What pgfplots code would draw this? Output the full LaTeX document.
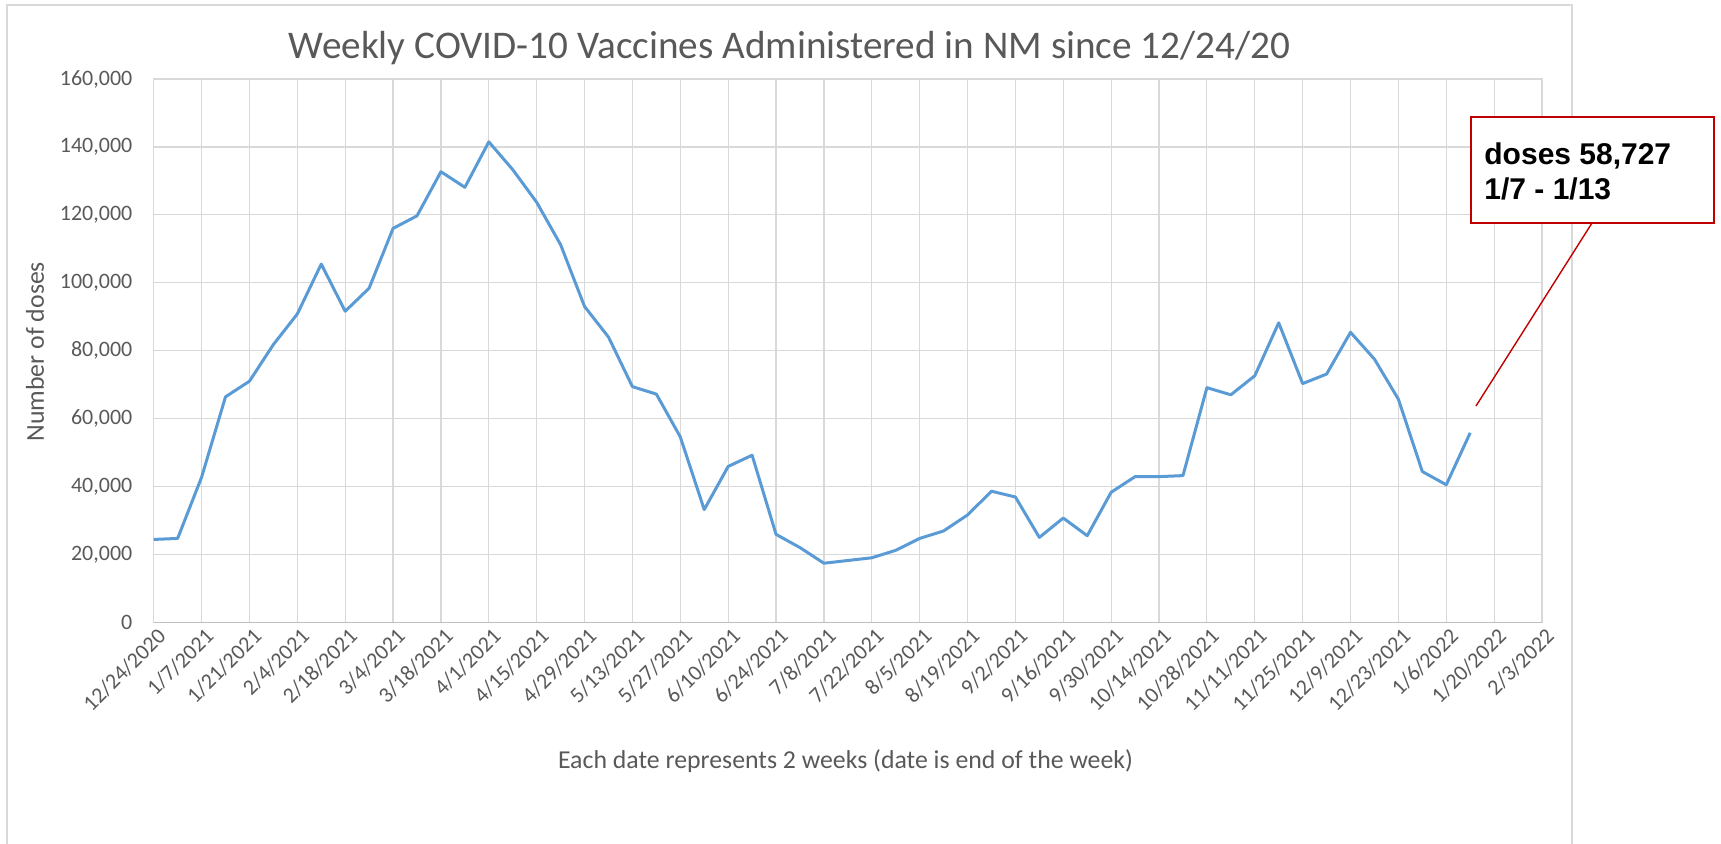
\documentclass[border=0pt]{standalone}
\usepackage{pgfplots}
\pgfplotsset{compat=1.18}
\usepackage{fontspec}
\setmainfont{Carlito}
\newfontfamily\arialfont{Liberation Sans}

\definecolor{lineblue}{HTML}{5B9BD5}
\definecolor{textgray}{HTML}{595959}
\definecolor{gridgray}{HTML}{D9D9D9}
\definecolor{axisgray}{HTML}{BFBFBF}
\definecolor{callred}{HTML}{C00000}

\begin{document}
\begin{tikzpicture}
\useasboundingbox (0,0) rectangle (860.5pt,421.5pt);
% chart frame
\draw[gridgray, line width=0.75pt] (3.5pt,-2pt) -- (3.5pt,419pt) -- (786pt,419pt) -- (786pt,-2pt);
% title
\node[anchor=base, text=textgray, font=\fontsize{19.6}{23}\selectfont, inner sep=0pt]
  at (394.75pt,392pt) {Weekly COVID-10 Vaccines Administered in NM since 12/24/20};

\begin{axis}[
    at={(76.85pt,110.35pt)}, anchor=south west,
    scale only axis,
    width=694.15pt, height=271.65pt,
    xmin=0, xmax=58,
    ymin=0, ymax=160000,
    xtick={0,2,...,58},
    xticklabels={12/24/2020,1/7/2021,1/21/2021,2/4/2021,2/18/2021,3/4/2021,3/18/2021,4/1/2021,4/15/2021,4/29/2021,5/13/2021,5/27/2021,6/10/2021,6/24/2021,7/8/2021,7/22/2021,8/5/2021,8/19/2021,9/2/2021,9/16/2021,9/30/2021,10/14/2021,10/28/2021,11/11/2021,11/25/2021,12/9/2021,12/23/2021,1/6/2022,1/20/2022,2/3/2022},
    ytick={0,20000,...,160000},
    scaled y ticks=false,
    /pgf/number format/fixed,
    /pgf/number format/1000 sep={,},
    /pgf/number format/assume math mode=true,
    tick label style={text=textgray, font=\fontsize{11}{13}\selectfont},
    yticklabel style={anchor=east, inner sep=0pt, xshift=-10.5pt},
    xticklabel style={rotate=45, anchor=east, inner sep=0pt, xshift=-0.5pt, yshift=-6.5pt},
    major tick length=0pt,
    grid=major,
    major grid style={gridgray, line width=0.6pt},
    axis line style={gridgray, line width=0.6pt},
    clip=false,
]
\addplot[color=lineblue, line width=1.5pt, line join=round] coordinates {
    (0,24400) (1,24700) (2,42700) (3,66400) (4,71000) (5,81800) (6,90800) (7,105500)
    (8,91600) (9,98400) (10,116000) (11,119700) (12,132700) (13,128100) (14,141500)
    (15,133300) (16,123700) (17,111200) (18,93000) (19,84000) (20,69400) (21,67200)
    (22,54600) (23,33200) (24,45900) (25,49200) (26,25900) (27,22000) (28,17400)
    (29,18200) (30,19000) (31,21200) (32,24700) (33,26900) (34,31600) (35,38600)
    (36,36900) (37,25000) (38,30700) (39,25500) (40,38300) (41,42900) (42,42900)
    (43,43200) (44,69100) (45,67000) (46,72600) (47,88200) (48,70300) (49,73100)
    (50,85400) (51,77500) (52,65700) (53,44400) (54,40500) (55,55800)
};
\draw[axisgray, line width=0.8pt] (axis cs:0,0) -- (axis cs:58,0);
\end{axis}

% axis titles
\node[rotate=90, text=textgray, font=\fontsize{12.9}{15}\selectfont, inner sep=0pt]
  at (17.5pt,245.65pt) {Number of doses};
\node[text=textgray, font=\fontsize{12.9}{15}\selectfont, inner sep=0pt]
  at (422.75pt,41pt) {Each date represents 2 weeks (date is end of the week)};

% callout
\draw[callred, line width=0.7pt] (796pt,310pt) -- (738pt,218.5pt);
\draw[callred, fill=white, line width=1pt] (735.5pt,310pt) rectangle (857pt,363pt);
\node[anchor=base west, inner sep=0pt, font=\arialfont\bfseries\fontsize{15}{16.5}\selectfont]
  at (742pt,339pt) {doses 58,727};
\node[anchor=base west, inner sep=0pt, font=\arialfont\bfseries\fontsize{15}{16.5}\selectfont]
  at (742pt,322pt) {1/7 - 1/13};
\end{tikzpicture}
\end{document}
